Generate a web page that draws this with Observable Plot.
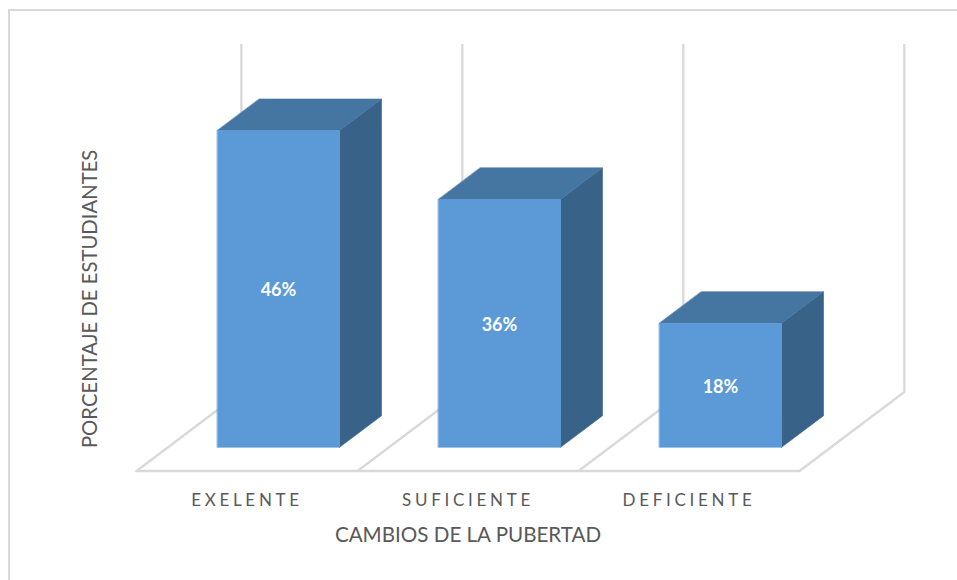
<!DOCTYPE html>
<html lang="es">
<head>
<meta charset="utf-8">
<title>Cambios de la pubertad</title>
<script src="https://cdn.jsdelivr.net/npm/d3@7"></script>
<script src="https://cdn.jsdelivr.net/npm/@observablehq/plot@0.6"></script>
<style>
  html, body { margin: 0; padding: 0; background: #fff; overflow: hidden; }
  #chart { position: relative; width: 957px; height: 580px; }
  #chart svg { position: absolute; left: 0; top: 0; background: transparent; }
  /* Chart-area border: only its top and left edges are visible */
  #border { position: absolute; left: 8px; top: 9px; right: 0; bottom: 0;
            border-top: 2px solid #d9d9d9; border-left: 2px solid #d9d9d9; }
  .cat-axis text { letter-spacing: 3.7px; }
</style>
</head>
<body>
<div id="chart"><div id="border"></div></div>
<script>
const categories = ["EXELENTE", "SUFICIENTE", "DEFICIENTE"];
const percentages = [46, 36, 18];
const xTitle = "CAMBIOS DE LA PUBERTAD";
const yTitle = "PORCENTAJE DE ESTUDIANTES";

// Oblique projection of the 3-D box chart: u runs along the categories,
// d runs into the page (0 front, 1 back), v is the percentage.
const depthX = 0.4744;
const depthY = 11.47;
const wallTop = 50.4;
const barInset = 0.2236;
const barWidth = 0.553;
const barFront = 0.3;
const barBack = 0.7;

const project = (u, d, v, group) => ({
  x: u + d * depthX,
  y: v + d * depthY,
  group
});

// Floor diagonals and back-wall verticals, one path per category boundary
const grid = d3.range(categories.length + 1).flatMap((u) => [
  project(u, 0, 0, u),
  project(u, 1, 0, u),
  project(u, 1, wallTop, u)
]);
const floorFront = [project(0, 0, 0, "front"), project(categories.length, 0, 0, "front")];

const bars = percentages.map((value, i) => ({
  i,
  value,
  category: categories[i],
  u0: i + barInset,
  u1: i + barInset + barWidth
}));

const frontFace = bars.flatMap((b) => [
  project(b.u0, barFront, 0, b.i),
  project(b.u1, barFront, 0, b.i),
  project(b.u1, barFront, b.value, b.i),
  project(b.u0, barFront, b.value, b.i)
]);
const topFace = bars.flatMap((b) => [
  project(b.u0, barFront, b.value, b.i),
  project(b.u1, barFront, b.value, b.i),
  project(b.u1, barBack, b.value, b.i),
  project(b.u0, barBack, b.value, b.i)
]);
const sideFace = bars.flatMap((b) => [
  project(b.u1, barFront, 0, b.i),
  project(b.u1, barBack, 0, b.i),
  project(b.u1, barBack, b.value, b.i),
  project(b.u1, barFront, b.value, b.i)
]);

const face = (data, color) =>
  Plot.line(data, {
    x: "x",
    y: "y",
    z: "group",
    fill: color,
    stroke: color,
    strokeWidth: 0.6,
    curve: "linear-closed"
  });

const chart = Plot.plot({
  width: 957,
  height: 580,
  marginLeft: 136,
  marginRight: 158,
  marginTop: 44.5,
  marginBottom: 109.5,
  style: { fontFamily: "Lato, sans-serif", background: "transparent", overflow: "visible" },
  x: { domain: [0, categories.length], axis: null },
  y: { domain: [0, wallTop + depthY], axis: null },
  marks: [
    Plot.line(grid, { x: "x", y: "y", z: "group", stroke: "#d9d9d9", strokeWidth: 2.3, strokeLinejoin: "miter" }),
    Plot.line(floorFront, { x: "x", y: "y", stroke: "#d9d9d9", strokeWidth: 2.3 }),
    face(sideFace, "#386288"),
    face(topFace, "#4575a1"),
    face(frontFace, "#5b9ad6"),
    Plot.text(bars, {
      x: (b) => (b.u0 + b.u1) / 2 + barFront * depthX,
      y: (b) => b.value / 2 + barFront * depthY,
      text: (b) => `${b.value}%`,
      dy: 1.5,
      fill: "#fff",
      fontSize: 18,
      fontWeight: 700
    }),
    Plot.axisX({
      ticks: d3.range(categories.length).map((i) => i + 0.5),
      tickFormat: (t) => categories[Math.floor(t)],
      tickSize: 0,
      tickPadding: 23,
      fontSize: 17,
      fill: "#595959",
      label: null,
      className: "cat-axis"
    }),
    Plot.text([xTitle], {
      x: () => categories.length / 2,
      y: () => 0,
      text: (d) => d,
      dy: 64,
      fontSize: 20.6,
      fill: "#595959"
    }),
    Plot.text([yTitle], {
      x: () => 0,
      y: () => 25,
      text: (d) => d,
      rotate: -90,
      dx: -46,
      fontSize: 20.3,
      fill: "#595959"
    })
  ]
});

document.getElementById("chart").appendChild(chart);
</script>
</body>
</html>
